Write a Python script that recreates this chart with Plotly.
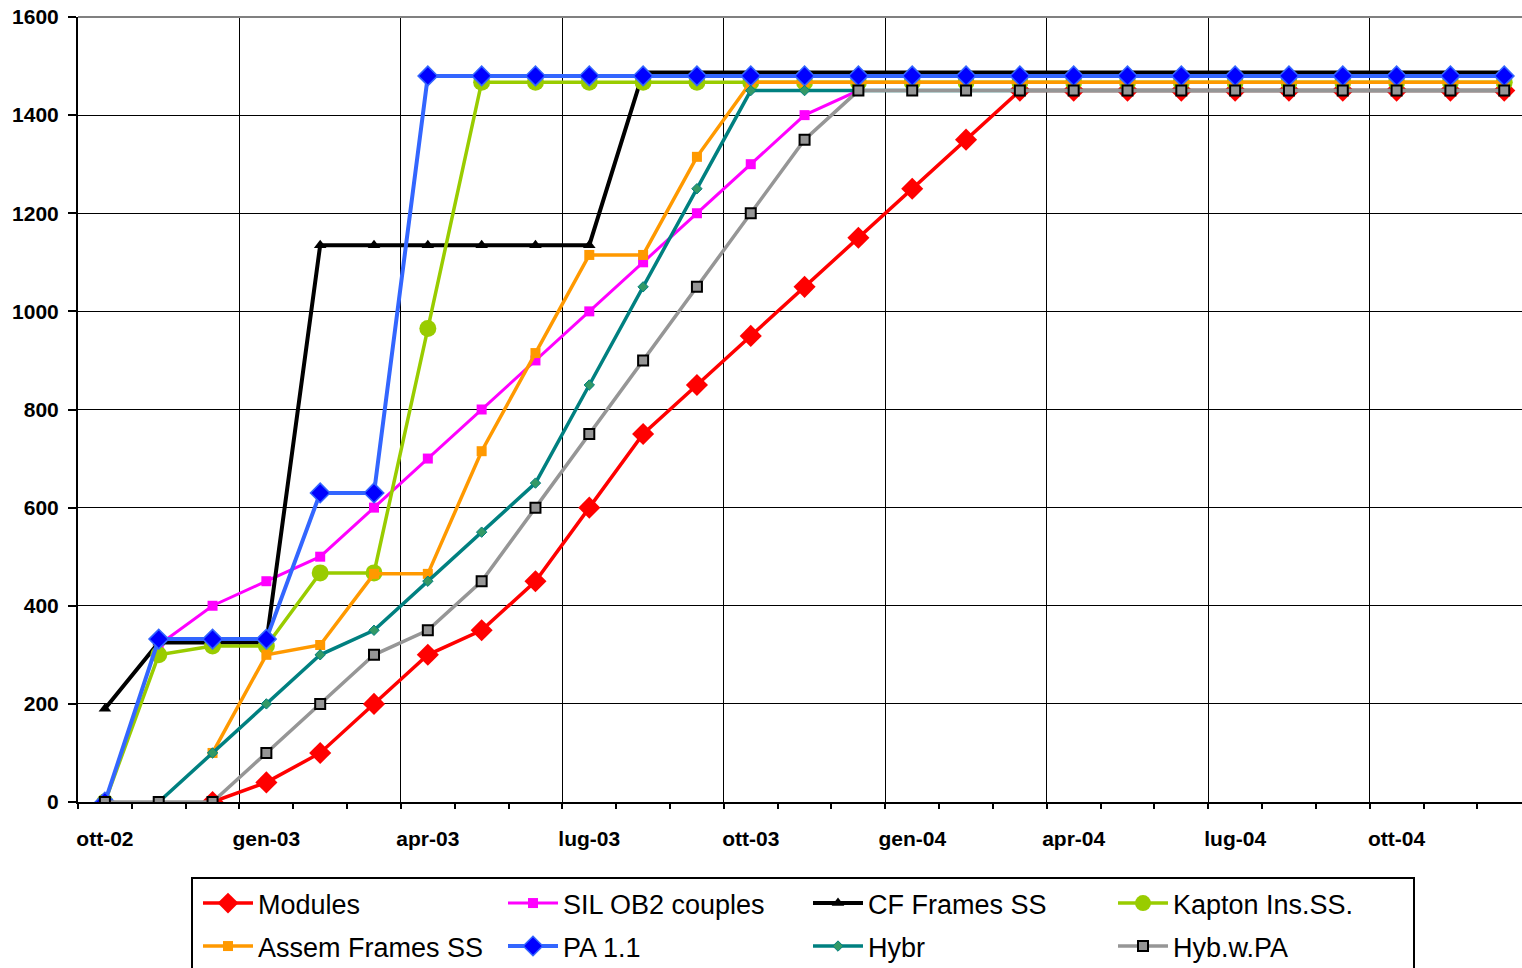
import plotly.graph_objects as go

# Monthly categories, October 2002 to December 2004
months = ["ott-02", "nov-02", "dic-02", "gen-03", "feb-03", "mar-03", "apr-03",
          "mag-03", "giu-03", "lug-03", "ago-03", "set-03", "ott-03", "nov-03",
          "dic-03", "gen-04", "feb-04", "mar-04", "apr-04", "mag-04", "giu-04",
          "lug-04", "ago-04", "set-04", "ott-04", "nov-04", "dic-04"]
tick_labels = ["ott-02", "gen-03", "apr-03", "lug-03", "ott-03",
               "gen-04", "apr-04", "lug-04", "ott-04"]

# Cumulative counts per month (None = not yet started)
modules = [None, None, 0, 40, 100, 200, 300, 350, 450, 600, 750, 850, 950, 1050,
           1150, 1250, 1350, 1450, 1450, 1450, 1450, 1450, 1450, 1450, 1450, 1450, 1450]
sil_ob2 = [None, 320, 400, 450, 500, 600, 700, 800, 900, 1000, 1100, 1200, 1300, 1400,
           1450, 1450, 1450, 1450, 1450, 1450, 1450, 1450, 1450, 1450, 1450, 1450, 1450]
cf_frames = [190, 325, 325, 325, 1135, 1135, 1135, 1135, 1135, 1135, 1487, 1487, 1487, 1487,
             1487, 1487, 1487, 1487, 1487, 1487, 1487, 1487, 1487, 1487, 1487, 1487, 1487]
kapton = [0, 300, 318, 318, 467, 467, 965, 1467, 1467, 1467, 1467, 1467, 1467, 1467,
          1467, 1467, 1467, 1467, 1467, 1467, 1467, 1467, 1467, 1467, 1467, 1467, 1467]
assem_frames = [None, None, 100, 300, 320, 465, 465, 715, 915, 1115, 1115, 1315, 1467, 1467,
                1467, 1467, 1467, 1467, 1467, 1467, 1467, 1467, 1467, 1467, 1467, 1467, 1467]
pa_11 = [0, 332, 332, 332, 630, 630, 1480, 1480, 1480, 1480, 1480, 1480, 1480, 1480,
         1480, 1480, 1480, 1480, 1480, 1480, 1480, 1480, 1480, 1480, 1480, 1480, 1480]
hybr = [None, 0, 100, 200, 300, 350, 450, 550, 650, 850, 1050, 1250, 1450, 1450,
        1450, 1450, 1450, 1450, 1450, 1450, 1450, 1450, 1450, 1450, 1450, 1450, 1450]
hyb_w_pa = [0, 0, 0, 100, 200, 300, 350, 450, 600, 750, 900, 1050, 1200, 1350,
            1450, 1450, 1450, 1450, 1450, 1450, 1450, 1450, 1450, 1450, 1450, 1450, 1450]

idx = list(range(len(months)))

series = [
    # name, values, line colour, line width, marker symbol, size, fill, edge colour, edge width, legend
    ("Modules", modules, "#FF0000", 3.5, "diamond", 17, "#FF0000", "#FF0000", 0, "legend"),
    ("SIL OB2 couples", sil_ob2, "#FF00FF", 3, "square", 10, "#FF00FF", "#FF00FF", 0, "legend"),
    ("CF Frames SS", cf_frames, "#000000", 4, "triangle-up", 11, "#000000", "#000000", 0, "legend"),
    ("Kapton Ins.SS.", kapton, "#99CC00", 3.5, "circle", 17, "#99CC00", "#99CC00", 0, "legend"),
    ("Assem Frames SS", assem_frames, "#FF9900", 3.5, "square", 10, "#FF9900", "#FF9900", 0, "legend2"),
    ("PA 1.1", pa_11, "#3366FF", 4, "diamond", 15, "#0000FF", "#3366FF", 1.5, "legend2"),
    ("Hybr", hybr, "#008080", 3.5, "diamond", 8, "#339966", "#008080", 1, "legend2"),
    ("Hyb.w.PA", hyb_w_pa, "#969696", 3.5, "square", 10, "#969696", "#000000", 2, "legend2"),
]

fig = go.Figure()
for name, vals, lc, lw, sym, size, fill, edge, ew, leg in series:
    fig.add_trace(go.Scatter(
        x=idx, y=vals, name=name, mode="lines+markers",
        line=dict(color=lc, width=lw),
        marker=dict(symbol=sym, size=size, color=fill, line=dict(color=edge, width=ew)),
        legend=leg, connectgaps=False,
    ))

# empty helper trace so the month-label axis gets drawn
fig.add_trace(go.Scatter(x=[None], y=[None], xaxis="x2", yaxis="y",
                         showlegend=False, hoverinfo="skip"))

label_pos = [months.index(t) for t in tick_labels]
boundaries = [i - 0.5 for i in idx] + [len(idx) - 0.5]
quarter_bounds = boundaries[::3]

bold_font = dict(family="Liberation Sans, Arial, sans-serif", size=21,
                 color="#000000", weight="bold")
legend_font = dict(family="Liberation Sans, Arial, sans-serif", size=27, color="#000000")

xr = [-0.5, 26.33]
fig.update_layout(
    width=1522, height=968,
    margin=dict(l=78, r=0, t=17, b=166, autoexpand=False),
    paper_bgcolor="white", plot_bgcolor="white",
    xaxis=dict(
        range=xr, tickmode="array", tickvals=quarter_bounds, ticktext=[""] * len(quarter_bounds),
        ticks="outside", ticklen=8, tickwidth=2, tickcolor="#000000",
        showgrid=True, gridcolor="#000000", gridwidth=1,
        showline=True, linecolor="#000000", linewidth=2, zeroline=False,
        minor=dict(tickmode="array", tickvals=boundaries, ticks="outside", ticklen=5,
                   tickwidth=2, tickcolor="#000000", showgrid=False),
    ),
    xaxis2=dict(
        overlaying="x", anchor="y", side="bottom", range=xr,
        tickmode="array", tickvals=label_pos, ticktext=tick_labels, ticks="",
        showgrid=False, showline=False, zeroline=False, ticklabelstandoff=22,
        tickfont=bold_font,
    ),
    yaxis=dict(
        range=[0, 1600], tickmode="linear", tick0=0, dtick=200,
        ticks="outside", ticklen=8, tickwidth=2, tickcolor="#000000",
        showgrid=True, gridcolor="#000000", gridwidth=1,
        showline=True, linecolor="#000000", linewidth=2, zeroline=False,
        tickfont=bold_font, ticklabelstandoff=5,
    ),
    legend=dict(orientation="h", x=(198 - 78) / 1444, xanchor="left",
                y=(802 - 879) / 785, yanchor="top",
                entrywidth=240, entrywidthmode="pixels", itemwidth=50,
                font=legend_font, bgcolor="rgba(0,0,0,0)", borderwidth=0,
                traceorder="normal"),
    legend2=dict(orientation="h", x=(198 - 78) / 1444, xanchor="left",
                 y=(802 - 922) / 785, yanchor="top",
                 entrywidth=240, entrywidthmode="pixels", itemwidth=50,
                 font=legend_font, bgcolor="rgba(0,0,0,0)", borderwidth=0,
                 traceorder="normal"),
    shapes=[
        # grey frame edge along the top of the plot area
        dict(type="line", xref="paper", yref="paper", x0=0, x1=1, y0=1, y1=1,
             line=dict(color="#808080", width=2), layer="above"),
        # legend frame
        dict(type="rect", xref="paper", yref="paper",
             x0=(192 - 78) / 1444, x1=(1414 - 78) / 1444,
             y0=(802 - 878) / 785, y1=(802 - 1000) / 785,
             line=dict(color="#000000", width=2), fillcolor="rgba(0,0,0,0)", layer="above"),
    ],
)

fig.write_html("out.html")
